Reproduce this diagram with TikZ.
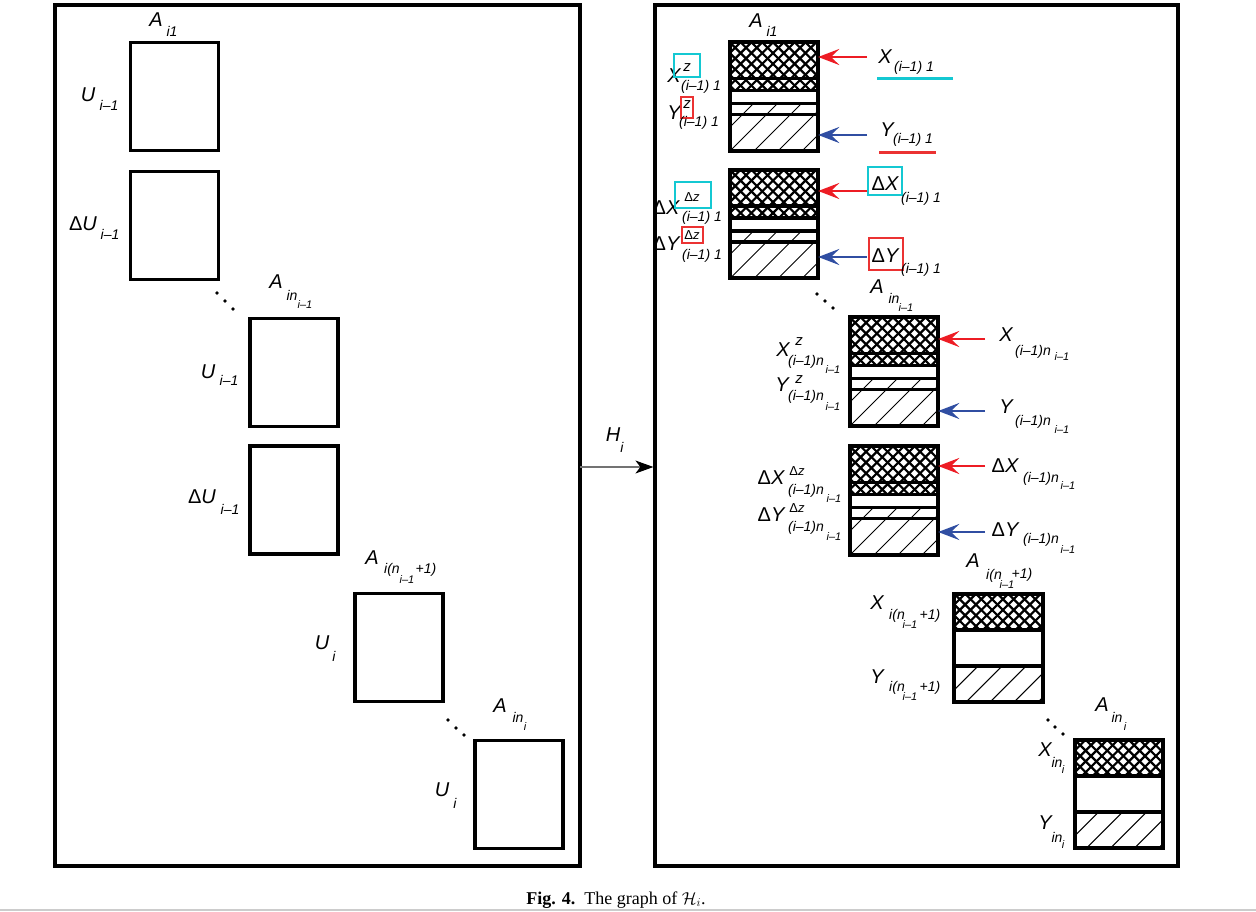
\documentclass[tikz,border=0pt]{standalone}
\usepackage{fontspec}
\setmainfont{Liberation Sans}
\newfontfamily\capfont{Liberation Serif}
\usetikzlibrary{arrows.meta}
\definecolor{ared}{RGB}{237,28,36}
\definecolor{ablue}{RGB}{48,78,162}
\definecolor{bcyan}{RGB}{20,200,210}
\definecolor{bred}{RGB}{235,50,50}
\newcommand\Dl{{\upshape Δ}}
\tikzset{
 mn/.style={font=\fontsize{20}{20}\selectfont\itshape, inner sep=0pt},
 sb/.style={font=\fontsize{14}{14}\selectfont\itshape, inner sep=0pt},
 ss/.style={font=\fontsize{11}{11}\selectfont\itshape, inner sep=0pt},
 sz/.style={font=\fontsize{15}{15}\selectfont\itshape, inner sep=0pt},
 sdz/.style={font=\fontsize{13}{13}\selectfont\itshape, inner sep=0pt},
 panel/.style={draw, line width=3.2pt, inner sep=0pt},
 lbox/.style={draw, line width=3.3pt, minimum width=88pt, minimum height=108pt, inner sep=0pt},
 rgeom/.style={minimum width=88pt, minimum height=108pt, inner sep=0pt},
 rline/.style={line width=4pt},
 divl/.style={line width=3.5pt},
 xh/.style={line width=2.2pt},
 hh/.style={line width=0.9pt},
 redarr/.style={draw=ared, line width=2.2pt, -{Stealth[length=21pt,width=16pt,inset=8pt]}},
 bluearr/.style={draw=ablue, line width=2.2pt, -{Stealth[length=21pt,width=16pt,inset=8pt]}},
 harr/.style={draw=black!55, line width=1.2pt, -{Stealth[length=18pt,width=13pt,inset=5pt,color=black]}},
 cbox/.style={draw=bcyan, line width=2.8pt, inner sep=0pt},
 rbx/.style={draw=bred, line width=2.8pt, inner sep=0pt},
 dotf/.style={fill, circle, inner sep=0pt, minimum size=3.8pt}
}
\newcommand\xhatch[3]{%
 \begin{scope}[shift={(#1.north west)}]
  \clip (0,#2) rectangle (88,#3);
  \foreach \k in {-8,...,18} {\draw[xh] (\k*10.8,#2) -- ++(70,70); \draw[xh] (\k*10.8,#2) -- ++(-70,70);}
 \end{scope}}
\newcommand\shatch[3]{%
 \begin{scope}[shift={(#1.north west)}]
  \clip (0,#2) rectangle (88,#3);
  \foreach \k in {0,...,8} \draw[hh] (\k*24,#2) -- ++(-70,70);
 \end{scope}}
\newcommand\quadbox[3]{%
 \node[rgeom] (#1) at (#2,#3) {};
 \xhatch{#1}{0}{48}
 \shatch{#1}{61}{108}
 \begin{scope}[shift={(#1.north west)}]
  \foreach \d in {36,48,61,72} \draw[divl] (0,\d) -- (88,\d);
 \end{scope}
 \draw[rline] (#1.north west) rectangle (#1.south east);}
\newcommand\tribox[3]{%
 \node[rgeom] (#1) at (#2,#3) {};
 \xhatch{#1}{0}{36}
 \shatch{#1}{72}{108}
 \begin{scope}[shift={(#1.north west)}]
  \foreach \d in {36,72} \draw[divl] (0,\d) -- (88,\d);
 \end{scope}
 \draw[rline] (#1.north west) rectangle (#1.south east);}
\begin{document}
\begin{tikzpicture}[x=1pt,y=-1pt]
\fill[white] (0,0) rectangle (1256,912);
\useasboundingbox (0,0) rectangle (1256,912);
% panels
\node[panel, minimum width=525pt, minimum height=861pt] (lp) at (317.5,435.5) {};
\node[panel, minimum width=523pt, minimum height=861pt] (rp) at (916.5,435.5) {};
% H arrow
\coordinate (hst) at (580,467);
\draw[harr] (hst) -- (hst -| rp.west);
\node[mn] (h) at (613,435) {H};
\node[sb] (hs) at (622,447) {i};
% left boxes
\node[lbox] (L1) at (174.5,96.5) {};
\node[lbox] (L2) at (174.5,225.5) {};
\node[lbox] (L3) at (294,372.5) {};
\node[lbox] (L4) at (294,500) {};
\node[lbox] (L5) at (399,647.5) {};
\node[lbox] (L6) at (519,794.5) {};
% left labels
\node[mn] (a1) at (156,20) {A}; \node[sb] (a1s) at (172,31) {i1};
\node[mn] (u1) at (88,95) {U}; \node[sb] (u1s) at (109,105) {i–1};
\node[mn] (du1) at (83,224) {\Dl U}; \node[sb] (du1s) at (110,234) {i–1};
\node[mn] (a2) at (276,282) {A}; \node[sb] (a2s) at (292,295) {in}; \node[ss] (a2ss) at (305,305) {i–1};
\node[mn] (u2) at (208,372) {U}; \node[sb] (u2s) at (229,380) {i–1};
\node[mn] (du2) at (202,497) {\Dl U}; \node[sb] (du2s) at (230,509) {i–1};
\node[mn] (a3) at (372,558) {A}; \node[sb] (a3s) at (392,570) {i(n}; \node[ss] (a3ss) at (407,580) {i–1}; \node[sb] (a3t) at (426,570) {+1)};
\node[mn] (u3) at (322,643) {U}; \node[sb] (u3s) at (334,656) {i};
\node[mn] (a4) at (500,706) {A}; \node[sb] (a4s) at (518,717) {in}; \node[ss] (a4ss) at (525,727) {i};
\node[mn] (u4) at (442,790) {U}; \node[sb] (u4s) at (455,803) {i};
\node[dotf] (ld1) at (217,293) {}; \node[dotf] (ld2) at (225,301) {}; \node[dotf] (ld3) at (233,309) {};
\node[dotf] (ld4) at (448,720) {}; \node[dotf] (ld5) at (456,728) {}; \node[dotf] (ld6) at (464,735) {};
% right boxes
\quadbox{R1}{774}{96.5}
\quadbox{R2}{774}{224}
\quadbox{R3}{894}{371.5}
\quadbox{R4}{894}{500.5}
\tribox{R5}{998.5}{648}
\tribox{R6}{1119}{794}
% R1 labels
\node[mn] (b1) at (756,21) {A}; \node[sb] (b1s) at (772,31) {i1};
\node[mn] (x1) at (674,76) {X};
\node[cbox, minimum width=26pt, minimum height=23pt] (x1b) at (687,65.5) {};
\node[sz] (x1z) at (687,68) {z};
\node[sb] (x1s) at (701,87) {(i–1) 1};
\node[mn] (y1) at (674,113) {Y};
\node[rbx, minimum width=12pt, minimum height=21pt] (y1b) at (687,107.5) {};
\node[sz] (y1z) at (687,105) {z};
\node[sb] (y1s) at (699,123) {(i–1) 1};
\node[mn] (X1) at (885,57) {X}; \node[sb] (X1s) at (914,68) {(i–1) 1};
\draw[bcyan, line width=3pt] (877,79) -- (953,79);
\node[mn] (Y1) at (887,130) {Y}; \node[sb] (Y1s) at (913,140) {(i–1) 1};
\draw[bred, line width=3pt] (879,153) -- (936,153);
\coordinate (s1) at (867,57); \draw[redarr] (s1) -- (s1 -| R1.east);
\coordinate (t1) at (867,135); \draw[bluearr] (t1) -- (t1 -| R1.east);
% R2 labels
\node[mn] (x2) at (666,208) {\Dl X};
\node[cbox, minimum width=36pt, minimum height=26pt] (x2b) at (693,195) {};
\node[sdz] (x2z) at (692,197) {\Dl z};
\node[sb] (x2s) at (702,218) {(i–1) 1};
\node[mn] (y2) at (666,244) {\Dl Y};
\node[rbx, minimum width=21pt, minimum height=16pt] (y2b) at (692.5,235) {};
\node[sdz] (y2z) at (692,235) {\Dl z};
\node[sb] (y2s) at (702,256) {(i–1) 1};
\node[cbox, minimum width=34pt, minimum height=28pt] (X2b) at (885,181) {};
\node[mn] (X2) at (885,184) {\Dl X}; \node[sb] (X2s) at (921,199) {(i–1) 1};
\node[rbx, minimum width=34pt, minimum height=32pt] (Y2b) at (886,254) {};
\node[mn] (Y2) at (885,256) {\Dl Y}; \node[sb] (Y2s) at (921,270) {(i–1) 1};
\coordinate (s2) at (867,191); \draw[redarr] (s2) -- (s2 -| R2.east);
\coordinate (t2) at (867,257); \draw[bluearr] (t2) -- (t2 -| R2.east);
% R3 labels
\node[mn] (b2) at (877,287) {A}; \node[sb] (b2s) at (894,298) {in}; \node[ss] (b2ss) at (906,308) {i–1};
\node[dotf] (rd1) at (817,294) {}; \node[dotf] (rd2) at (825,301) {}; \node[dotf] (rd3) at (833,308) {};
\node[mn] (x3) at (783,350) {X}; \node[sz] (x3z) at (799,342) {z}; \node[sb] (x3s) at (806,362) {(i–1)n}; \node[ss] (x3ss) at (833,370) {i–1};
\node[mn] (y3) at (782,385) {Y}; \node[sz] (y3z) at (799,380) {z}; \node[sb] (y3s) at (806,397) {(i–1)n}; \node[ss] (y3ss) at (833,407) {i–1};
\node[mn] (X3) at (1006,335) {X}; \node[sb] (X3s) at (1033,352) {(i–1)n}; \node[ss] (X3ss) at (1062,357) {i–1};
\node[mn] (Y3) at (1006,407) {Y}; \node[sb] (Y3s) at (1033,422) {(i–1)n}; \node[ss] (Y3ss) at (1062,430) {i–1};
\coordinate (s3) at (985,339); \draw[redarr] (s3) -- (s3 -| R3.east);
\coordinate (t3) at (985,411); \draw[bluearr] (t3) -- (t3 -| R3.east);
% R4 labels
\node[mn] (x4) at (771,478) {\Dl X}; \node[sdz] (x4z) at (797,471) {\Dl z}; \node[sb] (x4s) at (806,491) {(i–1)n}; \node[ss] (x4ss) at (834,499) {i–1};
\node[mn] (y4) at (771,515) {\Dl Y}; \node[sdz] (y4z) at (797,508) {\Dl z}; \node[sb] (y4s) at (806,528) {(i–1)n}; \node[ss] (y4ss) at (834,537) {i–1};
\node[mn] (X4) at (1005,466) {\Dl X}; \node[sb] (X4s) at (1041,479) {(i–1)n}; \node[ss] (X4ss) at (1068,486) {i–1};
\node[mn] (Y4) at (1005,530) {\Dl Y}; \node[sb] (Y4s) at (1041,540) {(i–1)n}; \node[ss] (Y4ss) at (1068,550) {i–1};
\coordinate (s4) at (985,466); \draw[redarr] (s4) -- (s4 -| R4.east);
\coordinate (t4) at (985,532); \draw[bluearr] (t4) -- (t4 -| R4.east);
% R5 labels
\node[mn] (b3) at (973,561) {A}; \node[sb] (b3s) at (994,576) {i(n}; \node[ss] (b3ss) at (1007,585) {i–1}; \node[sb] (b3t) at (1022,575) {+1)};
\node[mn] (x5) at (877,603) {X}; \node[sb] (x5s) at (897,616) {i(n}; \node[ss] (x5ss) at (910,625) {i–1}; \node[sb] (x5t) at (930,616) {+1)};
\node[mn] (y5) at (877,677) {Y}; \node[sb] (y5s) at (897,688) {i(n}; \node[ss] (y5ss) at (910,697) {i–1}; \node[sb] (y5t) at (930,688) {+1)};
% R6 labels
\node[dotf] (rd4) at (1048,720) {}; \node[dotf] (rd5) at (1055,727) {}; \node[dotf] (rd6) at (1063,734) {};
\node[mn] (b4) at (1102,705) {A}; \node[sb] (b4s) at (1117,717) {in}; \node[ss] (b4ss) at (1125,727) {i};
\node[mn] (x6) at (1045,750) {X}; \node[sb] (x6s) at (1057,762) {in}; \node[ss] (x6ss) at (1063,770) {i};
\node[mn] (y6) at (1045,823) {Y}; \node[sb] (y6s) at (1057,837) {in}; \node[ss] (y6ss) at (1063,845) {i};
% caption
\node[font=\capfont\fontsize{18}{18}\selectfont, inner sep=0pt] (cap) at (616,900) {\textbf{Fig. 4.}\enspace The graph of $\mathcal{H}_i$.};
\draw[black!20, line width=1.5pt] (0,910) -- (1256,910);
\end{tikzpicture}
\end{document}
